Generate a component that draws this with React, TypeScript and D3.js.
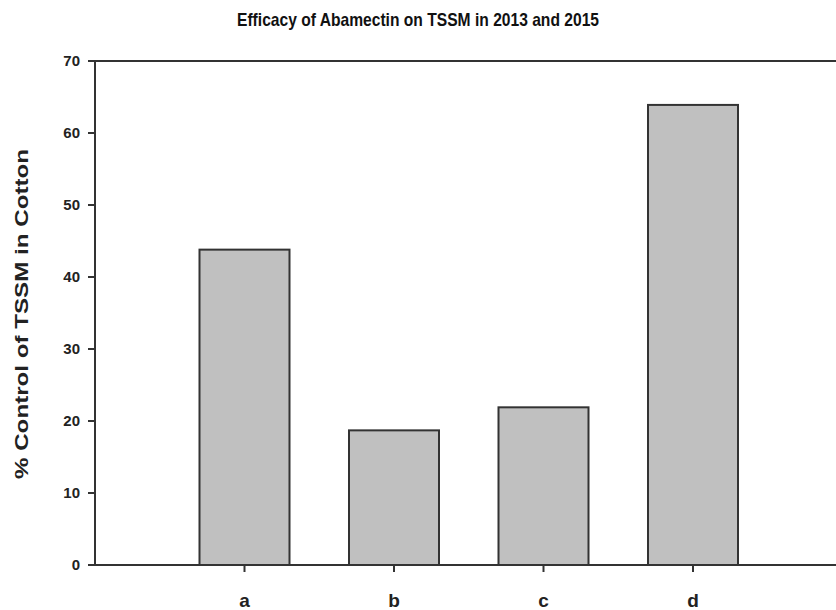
import React from "react";
import * as d3 from "d3";

const categories = ["a", "b", "c", "d"];
const values = [43.8, 18.7, 21.9, 63.9];
const yTicks = [0, 10, 20, 30, 40, 50, 60, 70];
const title = "Efficacy of Abamectin on TSSM in 2013 and 2015";
const yLabel = "% Control of TSSM in Cotton";

export default function App() {
  const W = 836, H = 610;
  const x0 = 95, yTop = 61, yBot = 565;
  const y = d3.scaleLinear().domain([0, 70]).range([yBot, yTop]);
  const x = d3.scaleLinear().domain([0, 5]).range([x0, x0 + 149.5 * 5]);
  const barW = 90;
  const stroke = "#333";
  const font = "'Liberation Sans', Arial, sans-serif";
  return (
    <svg width={W} height={H} style={{ position: "absolute", left: 0, top: 0, background: "#fff" }} fontFamily={font}>
      <rect x={0} y={0} width={W} height={H} fill="#fff" />
      <text x={418} y={26} textAnchor="middle" fontSize={19} fontWeight="bold" fill="#111" textLength={362} lengthAdjust="spacingAndGlyphs">{title}</text>
      {categories.map((c, i) => (
        <rect key={c} x={x(i + 1) - barW / 2} y={y(values[i])} width={barW} height={y(0) - y(values[i])}
          fill="#c0c0c0" stroke={stroke} strokeWidth={2} />
      ))}
      <line x1={x0} x2={W} y1={yTop} y2={yTop} stroke={stroke} strokeWidth={2} />
      <line x1={x0} x2={W} y1={yBot} y2={yBot} stroke={stroke} strokeWidth={2} />
      <line x1={x0} x2={x0} y1={yTop} y2={yBot} stroke={stroke} strokeWidth={2} />
      {yTicks.map(t => (
        <g key={t}>
          <line x1={x0 - 7} x2={x0} y1={y(t)} y2={y(t)} stroke={stroke} strokeWidth={2} />
          <text x={80} y={y(t) + 5} textAnchor="end" fontSize={15} fontWeight="bold" fill="#222">{t}</text>
        </g>
      ))}
      {categories.map((c, i) => (
        <g key={c}>
          <line x1={x(i + 1)} x2={x(i + 1)} y1={yBot} y2={yBot + 7} stroke={stroke} strokeWidth={2} />
          <text x={x(i + 1)} y={607} textAnchor="middle" fontSize={19} fontWeight="bold" fill="#222">{c}</text>
        </g>
      ))}
      <text transform={`translate(28,314) rotate(-90)`} textAnchor="middle" fontSize={19} fontWeight="bold" fill="#222" textLength={330} lengthAdjust="spacingAndGlyphs">{yLabel}</text>
    </svg>
  );
}
